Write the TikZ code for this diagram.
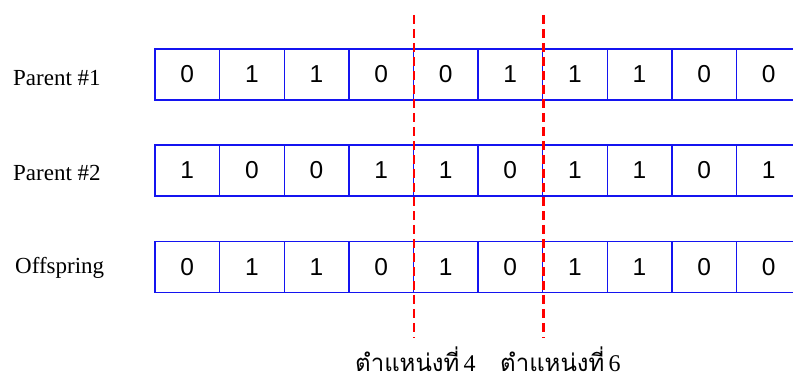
\documentclass[tikz,border=0pt]{standalone}
\usepackage{fontspec}
\setmainfont{Liberation Serif}
\newfontfamily\digitfont{Liberation Sans}
\newfontfamily\thaifont[Script=Thai]{Loma}
\definecolor{cellblue}{RGB}{20,20,240}
\begin{document}
\begin{tikzpicture}[x=1pt,y=-1pt,
  cell/.style={draw=cellblue, line width=1.4pt, minimum width=64.6pt, minimum height=51pt,
    inner sep=0pt, font=\digitfont\fontsize{24.5}{24.5}\selectfont},
  rowlabel/.style={anchor=base west, inner sep=0pt, font=\fontsize{23}{23}\selectfont},
  cutline/.style={draw=red, line width=2.6pt, dash pattern=on 9pt off 5pt},
  poslabel/.style={anchor=base west, inner sep=0pt, font=\thaifont\fontsize{24}{24}\selectfont}]
\useasboundingbox (0,0) rectangle (793,382);
\clip (0,0) rectangle (793,382);
\fill[white] (0,0) rectangle (793,382);
% row labels
\node[rowlabel] (p1) at (13,86) {Parent \#1};
\node[rowlabel] (p2) at (13,181) {Parent \#2};
\node[rowlabel] (off) at (15,274) {Offspring};
% cells
\foreach \v [count=\i] in {0,1,1,0,0,1,1,1,0,0}
  \node[cell] (a\i) at ({155+64.6*(\i-0.5)},74.5) {\v};
\foreach \v [count=\i] in {1,0,0,1,1,0,1,1,0,1}
  \node[cell] (b\i) at ({155+64.6*(\i-0.5)},170.5) {\v};
\foreach \v [count=\i] in {0,1,1,0,1,0,1,1,0,0}
  \node[cell] (c\i) at ({155+64.6*(\i-0.5)},267.2) {\v};
% cut points
\coordinate (cuttop) at (0,15);
\coordinate (cutbot) at (0,338);
\draw[cutline] (a4.east |- cuttop) -- (a4.east |- cutbot);
\draw[cutline] (a6.east |- cuttop) -- (a6.east |- cutbot);
% position labels
\node[poslabel] (pos4) at (355,371) {ตำแหน่งที่\,{\rmfamily 4}};
\node[poslabel] (pos6) at (500,371) {ตำแหน่งที่\,{\rmfamily 6}};
\end{tikzpicture}
\end{document}
